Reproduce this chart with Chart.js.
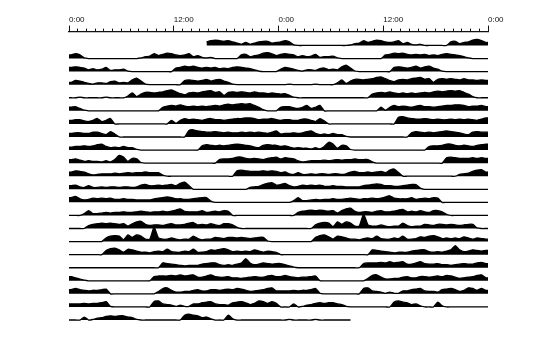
<!DOCTYPE html>
<html><head><meta charset="utf-8">
<script src="https://cdn.jsdelivr.net/npm/chart.js@4/dist/chart.umd.min.js"></script>
<style>html,body{margin:0;padding:0;background:#fff;}#wrap{width:550px;height:341px;position:relative;}</style>
</head><body><div id="wrap"><canvas id="c"></canvas></div>
<script>
// Tick labels of the double-plotted (48 h) time axis
const tickLabels = ['0:00','12:00','0:00','12:00','0:00'];
// Activity per half-hour bin (48 bins per day), heights
const day01 = [null,null,null,null,null,null,null,null,null,null,null,null,null,null,null,null,null,null,null,null,null,null,null,null,null,null,null,null,null,null,null,3,4,4.5,4,3.5,4,3,2,1,2.5,1,2,3,3.5,3.5,2,2.5];
const day02 = [3,4,3,0.5,0,0,0,0,0,0,0,0,0,0,0,0,0.5,1.5,2,4,2.5,3.5,4.5,4,3,2.5,3,4,1.5,2.5,1,0.5,1,0,0,0,0,0,0,3,3.5,1.5,2.5,3,4.5,5,4,2.5];
const day03 = [3.5,4,3.5,3,1.5,2.5,1.5,2,3.5,1,1.5,1.5,2,0.5,0,0,0,0,0,0,0,0,0,0,3,3.5,4.5,4,4.5,3.5,3,3.5,3,3.5,2.5,3,2.5,3.5,4,3.5,3,2.5,1.5,0.5,0,0,0,0];
const day04 = [2,3.5,3,2,1,0.5,1.5,1.5,1,2.5,3,1.5,2,1.5,4,5.5,3,0.5,0,0,0,0,0,0,0,0,3.5,4,3.5,3,3.5,4.5,3,4,4.5,3,2,0.5,0,0,0,0,0,0,0,0,0,0];
const day05 = [0,0,0.5,0,0,0,0,0,0.5,0,0,0,0,1.5,4,1,3,4.5,4.5,4,4.5,5,6,6.5,5,3.5,2.5,4,4.5,4,5,5.5,6,4.5,5,2,4.5,5,4.5,5,4.5,4,5,4,4,3.5,4,3.5];
const day06 = [3,3.5,2,0.5,0,0,0,0,0,0,0,0,0,0,0,0,0,0,0,0,0,3,4,4.5,4,5,4,3.5,4,3.5,4,3.5,4,4.5,4,5,5.5,5,5.5,6,5.5,6,4.5,3,1,0,0,0];
const day07 = [3,3.5,3.5,2.5,2,3,4.5,2,3,4.5,0,0,0,0,0,0,0,0,0,0,0,0,0,3,0.5,3,4.5,3.5,4,3.5,3,4,4.5,3.5,3.5,3,3.5,4,4.5,4.5,5,5,4.5,3.5,4,4,4.5,3.5];
const day08 = [3,3.5,3.5,3,3,4,4,3,2,4.5,2.5,0,0,0,0,0,0,0,0,0,0,0,0,0,0,0,0,5.5,6,5,4.5,4,4,4.5,4,3.5,4,3.5,3.5,4,3.5,4,3.5,4,3.5,3,4,5];
const day09 = [2.5,3,3,3.5,3,3.5,4.5,5,3,2,2.5,2,3,2,2,0.5,0,0,0,0,0,0,0,0,0,0,0,0,0,0,3.5,4.5,4,3.5,4,3.5,4,4.5,5,4.5,4,3.5,2.5,2,4,4.5,4,4];
const day10 = [3,3.5,2.5,1.5,2,1.5,1.5,1,2,1,3,6.5,5,1.5,4,3.5,0.5,0,0,0,0,0,0,0,0,0,0,0,0,0,0,0,0,0,3,3.5,3.5,4,5,5,4,3.5,4,3.5,3,4,4.5,5];
const day11 = [3.5,4.5,4,3.5,2,1,1.5,2,2,2,2.5,2,2.5,3,2.5,3,3,3.5,3,3,3,1,0,0,0,0,0,0,0,0,0,0,0,0,0,0,0,0,4.5,5,4.5,4,4,4,4.5,4,4.5,4];
const day12 = [3,3.5,2,1.5,3,1.5,1.5,2,1.5,2,2,1.5,2,2,1.5,2,3.5,4,3,3,3.5,3,3.5,4,3,5,6,3,0,0,0,0,0,0,0,0,0,0,0,0,0,1.5,2,2.5,4,5,5.5,3.5];
const day13 = [4,5,3,2,2.5,3.5,3,3.5,3,3.5,2.5,2.5,3,2.5,2.5,2,2,2,2,3,3.5,4,4.5,4,3,3,2.5,2.5,3,3.5,4,4,1,0,0,0,0,0,0,0,0,0,0,0,0,0,0,0];
const day14 = [0,0,0,1.5,4,1.5,1.5,2,2.5,2,2.5,2.5,3,2.5,2.5,3,3.5,3,2.5,3,3,3.5,3,3.5,4.5,5.5,3.5,3,3,3,4,2.5,3,3.5,3,4,3.5,0,0,0,0,0,0,0,0,0,0,0];
const day15 = [0,0,0,0,2.5,3.5,4,4.5,4,4.5,4,3.5,4,2,4,5.5,6,3.5,2.5,3,3,2.5,3.5,4,3,3,3.5,4.5,5,3,3.5,3,4,3,2.5,4,4,3,1,0,0,0,0,0,0,0,0,0];
const day16 = [0,0,0,0,0,0,0,0,3,4.5,5,4.5,1.5,5.5,3.5,5.5,4.5,2,2,12,3,2,2,3,2,1.5,2,2,4.5,2.5,1.5,2,2,3.5,3,2.5,3.5,3.5,3,3.5,3,2.5,3,3.5,3.5,0.5,0,0];
const day17 = [0,0,0,0,0,0,0,0,3.5,5,5.5,4,2,4.5,4,3,2,2,1.5,2.5,3,2.5,4.5,2.5,2,2,3,2.5,4.5,2,2,2.5,4,3.5,4.5,5,4,2.5,3,2.5,3,2.5,4,3,2,3,2.5,2];
const day18 = [0,0,0,0,0,0,0,0,0,0,0,0,0,0,0,0,0,0,0,0,0,4,3.5,3,2.5,2,1.5,2,2,2,3,3.5,4,4,2.5,2,2.5,2,3,4,7.5,4,2.5,3,4,3.5,3,3.5];
const day19 = [3.5,2.5,1.5,0.5,0,0,0,0,0,0,0,0,0,0,0,0,0,0,0,3.5,4,4,4,4.5,4,5,4,4.5,5,3,3,4,5,3.5,3,3,3.5,2.5,2.5,2,2.5,3,3.5,3,3,4,4.5,3.5];
const day20 = [3.5,4.5,3.5,3,2.5,3,3,3.5,4,0,0,0,0,0,0,0,0,0,0,0,2,4.5,5,3,1.5,1.5,2,2,3,3.5,2.5,2.5,3.5,3.5,3,3.5,4,3.5,4.5,4,3,2,2.5,3,3.5,4.5,5,2.5];
const day21 = [2.5,2.5,2.5,3,2.5,3,3,3.5,4.5,0.5,0,0,0,0,0,0,0,0,0,4.5,5,2.5,2,1.5,0.5,1.5,0.5,0.5,2.5,2.5,3.5,4,4.5,2.5,2,2,1.5,3.5,4,4.5,3.5,2,3,5,4.5,3,4.5,3];
const day22 = [0,0,0,2.5,0,0.5,1.5,2,3,3.5,3,3.5,3.5,2.5,2,0.5,0,0,0,0,0,0,0,0,0,0,4,5,4,3.5,2,2.5,1,0,0,0,4,1,0,0,0,0,0,0,0,0,0,0];
const day23 = [0,0,0.5,0,0,0,0,0,0.5,0,0,0,0,0,0,0,0,null,null,null,null,null,null,null,null,null,null,null,null,null,null,null,null,null,null,null,null,null,null,null,null,null,null,null,null,null,null,null];

const days = [day01,day02,day03,day04,day05,day06,day07,day08,day09,day10,day11,day12,day13,day14,day15,day16,day17,day18,day19,day20,day21,day22,day23];
const rowCount = 22;
const rowGap = 13.1;
const rowOffset = 11;
const binHours = 0.5;
const heightScale = 1.2;

const datasets = [];
for (let r = 0; r < rowCount; r++) {
  const base = rowOffset + (rowCount - 1 - r) * rowGap;
  const vals = days[r].concat(days[r + 1]);
  const toY = v => v == null ? null : base + v * heightScale;
  const pts = [];
  pts.push({x: 0, y: toY(vals[0])});
  vals.forEach((v, k) => pts.push({x: (k + 0.5) * binHours, y: toY(v)}));
  pts.push({x: 48, y: toY(vals[vals.length - 1])});
  datasets.push({
    data: pts,
    fill: {value: base},
    borderColor: '#000',
    backgroundColor: '#000',
    borderWidth: 1.3,
    pointRadius: 0,
    tension: 0.2,
    spanGaps: false,
    clip: false
  });
}

new Chart(document.getElementById('c'), {
  type: 'line',
  data: {datasets},
  options: {
    responsive: true,
    maintainAspectRatio: false,
    animation: false,
    plugins: {legend: {display: false}, tooltip: {enabled: false}},
    layout: {padding: {top: 14, left: 69, right: 62, bottom: 10}},
    scales: {
      x: {
        type: 'linear', position: 'top', min: 0, max: 48, weight: 0,
        ticks: {display: false, stepSize: 1},
        grid: {drawOnChartArea: false, tickLength: 3, color: '#111', lineWidth: 1},
        border: {display: true, color: '#111', width: 1.2}
      },
      x2: {
        type: 'linear', position: 'top', min: 0, max: 48, weight: 1,
        ticks: {stepSize: 12, align: 'start', padding: 1, color: '#111',
          font: {size: 8, family: 'Liberation Sans'},
          callback: (v) => tickLabels[Math.round(v / 12)]},
        grid: {drawOnChartArea: false, tickLength: 3, color: '#111', lineWidth: 1},
        border: {display: false}
      },
      y: {display: false, min: 0, max: 300}
    }
  }
});
</script>
</body></html>
